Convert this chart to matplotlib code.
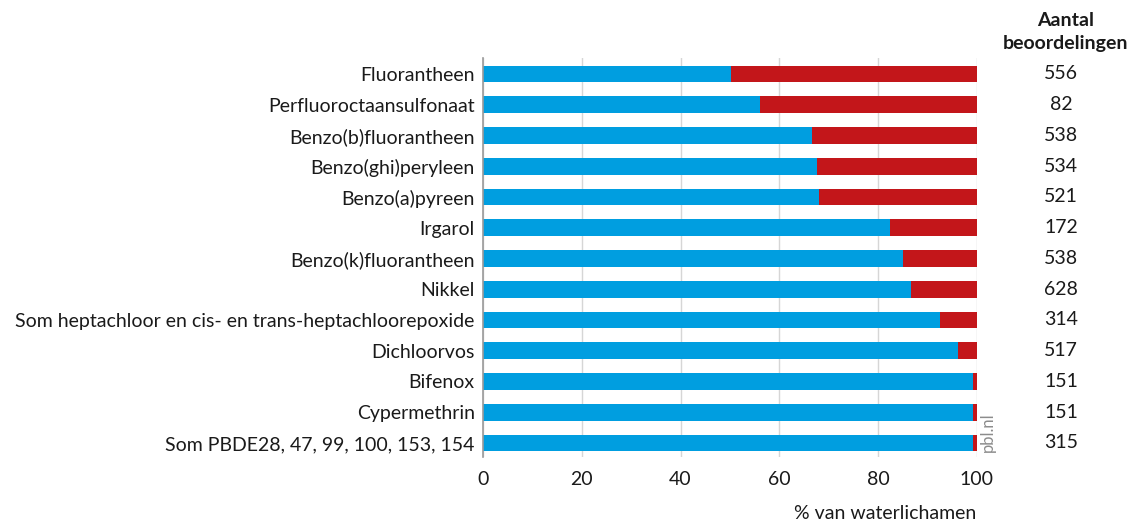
import matplotlib
matplotlib.use("Agg")
import matplotlib.pyplot as plt
from matplotlib.transforms import blended_transform_factory

plt.rcParams['font.family'] = ['Lato', 'DejaVu Sans']

categories = [
    "Fluorantheen",
    "Perfluoroctaansulfonaat",
    "Benzo(b)fluorantheen",
    "Benzo(ghi)peryleen",
    "Benzo(a)pyreen",
    "Irgarol",
    "Benzo(k)fluorantheen",
    "Nikkel",
    "Som heptachloor en cis- en trans-heptachloorepoxide",
    "Dichloorvos",
    "Bifenox",
    "Cypermethrin",
    "Som PBDE28, 47, 99, 100, 153, 154",
]
voldoet = [50.3, 56.1, 66.6, 67.6, 68.1, 82.5, 85.1, 86.7, 92.6, 96.3, 99.3, 99.3, 99.3]
voldoet_niet = [100 - v for v in voldoet]
aantal = [556, 82, 538, 534, 521, 172, 538, 628, 314, 517, 151, 151, 315]
xticks = [0, 20, 40, 60, 80, 100]

blue = "#009EE0"
red = "#C3161A"
textc = "#1a1a1a"
fs = 14

fig = plt.figure(figsize=(11.36, 5.24), dpi=100)
ax = fig.add_axes([0.4252, 0.1279, 0.4346, 0.7614])

y = list(range(len(categories)))
ax.barh(y, voldoet, height=0.54, color=blue, zorder=3)
ax.barh(y, voldoet_niet, left=voldoet, height=0.54, color=red, zorder=3)

ax.set_ylim(12.455, -0.52)
ax.set_xlim(0, 100)
ax.set_yticks(y)
ax.set_yticklabels(categories, fontsize=fs, color=textc)
ax.set_xticks(xticks)
ax.set_xticklabels([str(t) for t in xticks], fontsize=fs, color=textc)
ax.tick_params(axis='y', length=0, pad=6)
ax.tick_params(axis='x', length=0, pad=10)

ax.grid(axis='x', color="#d6d6d6", linewidth=1, zorder=0)
for s in ['top', 'right', 'bottom']:
    ax.spines[s].set_visible(False)
ax.spines['left'].set_color("#9a9a9a")
ax.spines['left'].set_linewidth(1.2)
ax.spines['left'].set_zorder(4)

ax.set_xlabel("% van waterlichamen", fontsize=fs, color=textc, loc='right', labelpad=12)

tr = blended_transform_factory(fig.transFigure, ax.transData)
xc = 1061 / 1136
for yi, n in zip(y, aantal):
    ax.text(xc, yi, str(n), transform=tr, ha='center', va='center', fontsize=fs, color=textc)

fig.text(1066 / 1136, 1 - 32 / 524, "Aantal\nbeoordelingen", ha='center', va='center',
         fontsize=fs, fontweight='bold', color=textc, linespacing=1.4)

fig.text(988 / 1136, 1 - 432 / 524, "pbl.nl", rotation=90, ha='center', va='center',
         fontsize=12, color="#8c8c8c")

fig.savefig("out.png", dpi=100)
